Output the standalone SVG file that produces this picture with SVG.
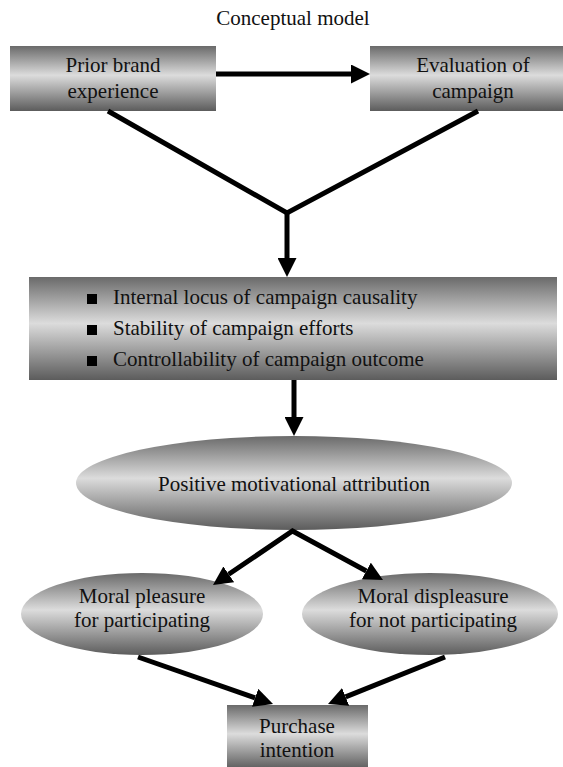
<svg xmlns="http://www.w3.org/2000/svg" width="563" height="767" viewBox="0 0 563 767">
<style>
text{font-size:21px;fill:#111}
.c{text-anchor:middle}
.conn{stroke:#000;stroke-width:5;fill:none;stroke-linejoin:miter}
.arr{marker-end:url(#ah)}
</style>
<defs>
<linearGradient id="g" x1="0" y1="0" x2="0" y2="1">
<stop offset="0" stop-color="#6a6a6a"/>
<stop offset="0.45" stop-color="#dcdcdc"/>
<stop offset="1" stop-color="#5c5c5c"/>
</linearGradient>
<marker id="ah" viewBox="0 0 19 19" refX="0" refY="9.5" markerWidth="19" markerHeight="19" markerUnits="userSpaceOnUse" orient="auto-start-reverse">
<path d="M0,0 L19,9.5 L0,19 Z" fill="#000"/>
</marker>
</defs>
<g font-family="'Liberation Serif', serif">
<text class="c" x="293" y="25">Conceptual model</text>
<g id="prior">
<rect x="10" y="46" width="206" height="65" fill="url(#g)"/>
<text class="c" x="113" y="72">Prior brand</text>
<text class="c" x="113" y="98">experience</text>
</g>
<g id="evaluation">
<rect x="370" y="46" width="206" height="65" fill="url(#g)"/>
<text class="c" x="473" y="72">Evaluation of</text>
<text class="c" x="473" y="98">campaign</text>
</g>
<g id="attributions">
<rect x="29" y="277" width="528" height="103" fill="url(#g)"/>
<rect x="87" y="294" width="10" height="10" fill="#000"/>
<rect x="87" y="325" width="10" height="10" fill="#000"/>
<rect x="87" y="356" width="10" height="10" fill="#000"/>
<text x="113" y="304">Internal locus of campaign causality</text>
<text x="113" y="335">Stability of campaign efforts</text>
<text x="113" y="366">Controllability of campaign outcome</text>
</g>
<g id="positive">
<ellipse cx="294" cy="483" rx="218" ry="47" fill="url(#g)"/>
<text class="c" x="294" y="491">Positive motivational attribution</text>
</g>
<g id="pleasure">
<ellipse cx="142" cy="614" rx="121" ry="41" fill="url(#g)"/>
<text class="c" x="142" y="603">Moral pleasure</text>
<text class="c" x="142" y="627">for participating</text>
</g>
<g id="displeasure">
<ellipse cx="430" cy="614" rx="128" ry="41" fill="url(#g)"/>
<text class="c" x="433" y="603">Moral displeasure</text>
<text class="c" x="433" y="627">for not participating</text>
</g>
<g id="purchase">
<rect x="227" y="705" width="141" height="64" fill="url(#g)"/>
<text class="c" x="297" y="733">Purchase</text>
<text class="c" x="297" y="757">intention</text>
</g>
</g>
<g id="connectors">
<line class="conn arr" x1="216" y1="74" x2="351" y2="74"/>
<path class="conn" d="M108,111 L287,213 L478,111"/>
<line class="conn arr" x1="287" y1="212" x2="287" y2="258"/>
<line class="conn arr" x1="294" y1="380" x2="294" y2="417"/>
<path class="conn" d="M228.7,574.3 L292.5,531 L366.3,571" marker-start="url(#ah)" marker-end="url(#ah)"/>
<line class="conn arr" x1="138" y1="657" x2="255.1" y2="697.8"/>
<line class="conn arr" x1="445" y1="657" x2="345.6" y2="696.9"/>
</g>
</svg>
